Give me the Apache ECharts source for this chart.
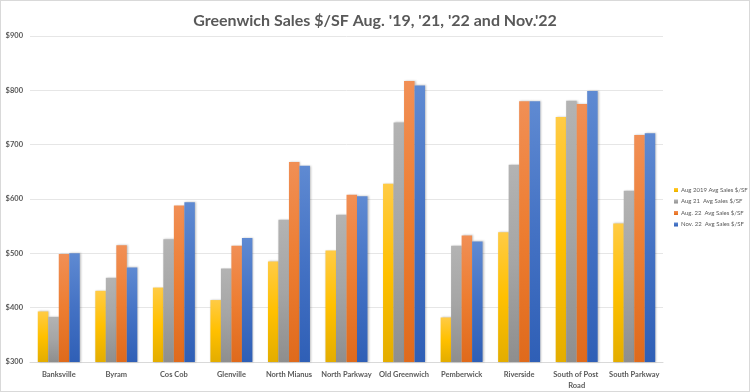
<!DOCTYPE html>
<html><head><meta charset="utf-8">
<script src="https://cdn.jsdelivr.net/npm/echarts@6/dist/echarts.min.js"></script>
<style>html,body{margin:0;padding:0;background:#fff}
#c{width:750px;height:392px;box-sizing:border-box;border:1px solid #d9d9d9;}</style>
</head><body><div id="c"></div>
<script>
const categories = ['Banksville','Byram','Cos Cob','Glenville','North Mianus','North Parkway','Old Greenwich','Pemberwick','Riverside','South of Post Road','South Parkway'];
const seriesNames = ['Aug 2019 Avg Sales $/SF','Aug 21  Avg Sales $/SF','Aug. 22  Avg Sales $/SF','Nov. 22  Avg Sales $/SF'];
const aug2019 = [393,431,437,414,485,505,628,382,539,751,555];
const aug2021 = [383,455,526,472,562,571,741,514,663,781,615];
const aug2022 = [499,515,588,514,668,608,817,533,780,775,718];
const nov2022 = [500,474,594,528,661,605,809,522,780,799,721];
const yTicks = [300,400,500,600,700,800,900];

const grads = [
  ['#FFCB45','#FFC000','#E3AD00'],
  ['#B3B3B3','#A5A5A5','#8E8E8E'],
  ['#F18F55','#ED7D31','#DF6A1C'],
  ['#5F8AD2','#4472C4','#2F5FB6']
];
function grad(c){return new echarts.graphic.LinearGradient(0,0,0,1,[{offset:0,color:c[0]},{offset:0.5,color:c[1]},{offset:1,color:c[2]}]);}
const values = [aug2019,aug2021,aug2022,nov2022];
const chart = echarts.init(document.getElementById('c'));
chart.setOption({
  animation:false,
  title:{text:"Greenwich Sales $/SF Aug. '19, '21, '22 and Nov.'22",left:'center',top:7,
    textStyle:{fontFamily:'Lato',fontSize:16,fontWeight:'bold',color:'#595959'}},
  legend:{orient:'vertical',left:673,top:186,padding:0,itemWidth:4,itemHeight:4,itemGap:5.5,icon:'rect',
    textStyle:{fontFamily:'Lato',fontSize:6,color:'#595959',padding:[0,0,0,-2]},data:seriesNames},
  grid:{left:29,right:86,top:35,bottom:29,containLabel:false},
  xAxis:{type:'category',data:categories,
    axisLine:{lineStyle:{color:'#d9d9d9'}},axisTick:{show:false},
    axisLabel:{interval:0,fontFamily:'Lato',fontSize:7.5,fontWeight:'bold',color:'#595959',margin:7,width:58,overflow:'break',lineHeight:11}},
  yAxis:{type:'value',min:300,max:900,interval:100,
    axisLine:{show:false},axisTick:{show:false},
    splitLine:{lineStyle:{color:'#e6e6e6'}},
    axisLabel:{fontFamily:'Lato',fontSize:7.5,fontWeight:'bold',color:'#595959',margin:7,
      formatter:v=>yTicks.includes(v)?'$'+v:''}},
  series:seriesNames.map((n,i)=>({name:n,type:'bar',data:values[i],barGap:'0%',barCategoryGap:'27%',
    itemStyle:{color:grad(grads[i]),shadowColor:'rgba(0,0,0,0.25)',shadowBlur:2,shadowOffsetX:1}}))
});
</script></body></html>
